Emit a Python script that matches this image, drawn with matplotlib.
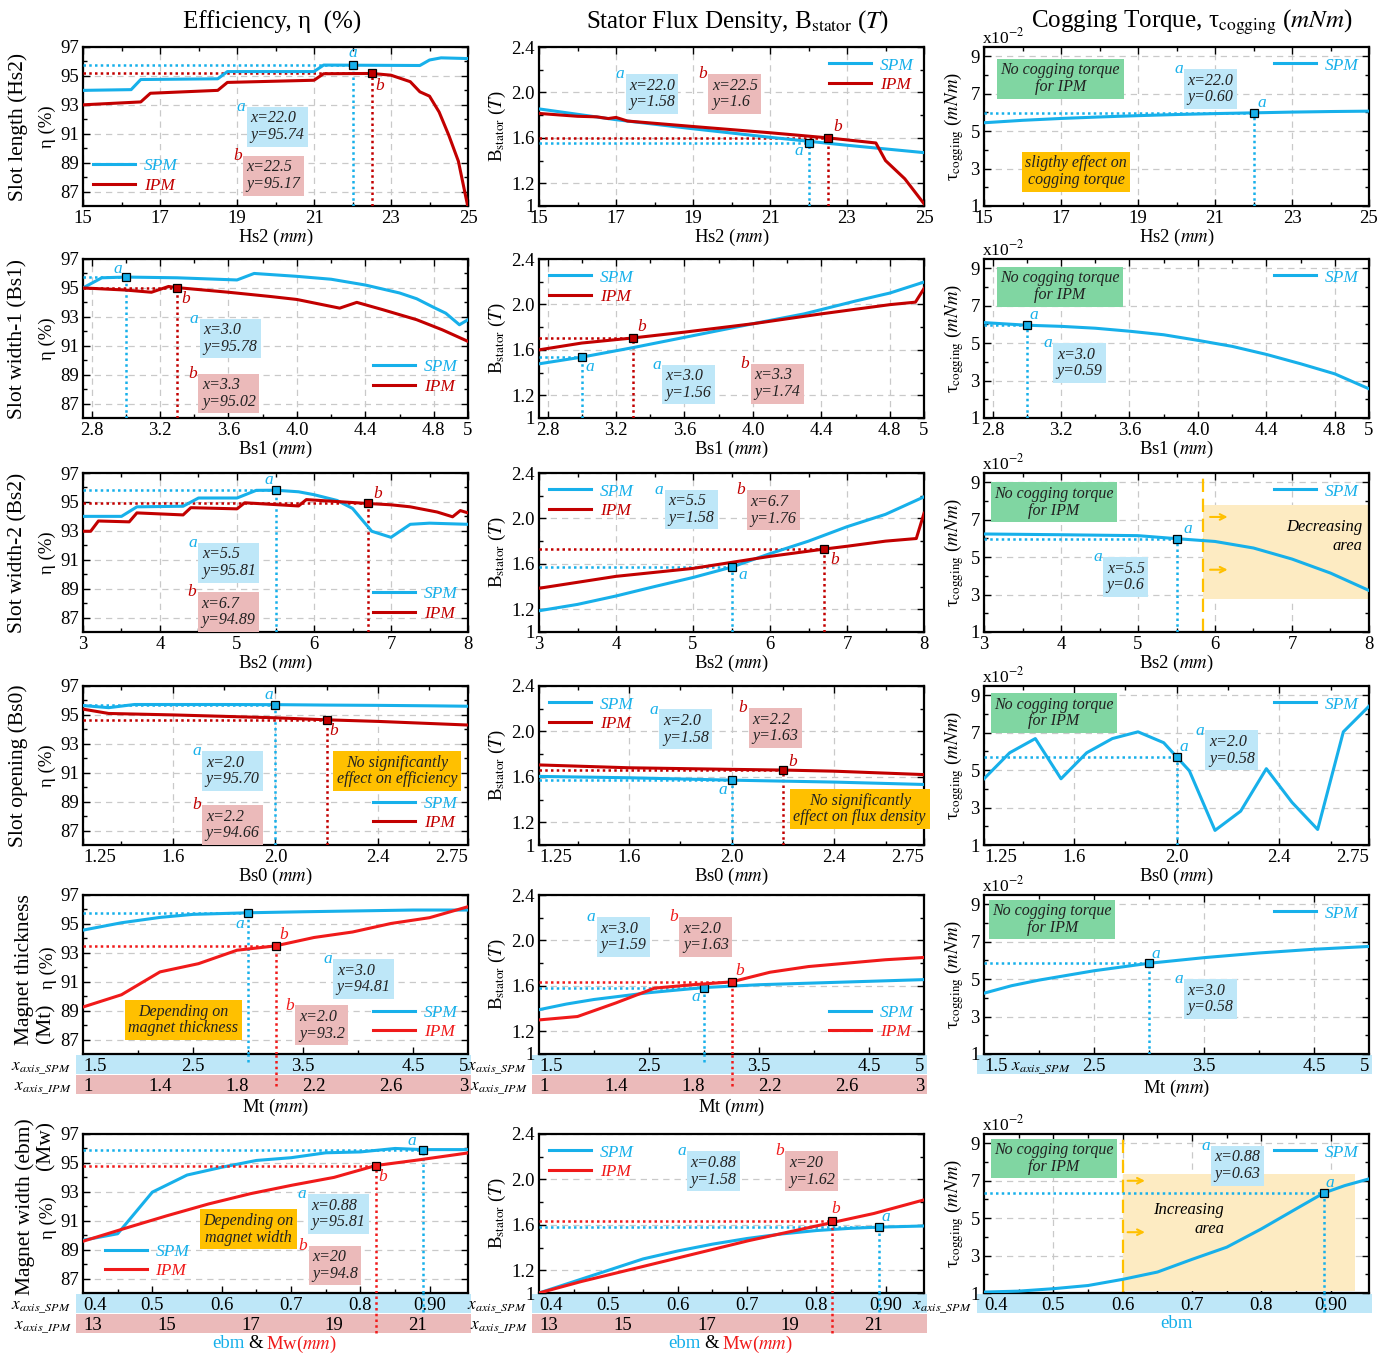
import numpy as np
import matplotlib.pyplot as plt
from matplotlib.patches import Rectangle

plt.rcParams['font.family'] = ['Liberation Serif', 'DejaVu Serif']
plt.rcParams['mathtext.fontset'] = 'stix'

# ---- values ----
# row 1 : slot length Hs2
hs2_eff_spm_x = [15, 16.25, 16.5, 18.5, 18.75, 21, 21.25, 23.75, 24, 24.3, 25]
hs2_eff_spm_y = [94.0, 94.05, 94.75, 94.8, 95.3, 95.3, 95.75, 95.72, 96.1, 96.25, 96.2]
hs2_eff_ipm_x = [15, 16.5, 16.75, 18.5, 18.75, 21, 21.25, 22.5, 23, 23.5, 23.75, 24, 24.25, 24.5, 24.75, 25]
hs2_eff_ipm_y = [93.0, 93.2, 93.8, 94.0, 94.55, 94.7, 95.15, 95.17, 95.05, 94.6, 93.9, 93.6, 92.5, 90.9, 89.1, 85.9]
hs2_flux_spm_x = [15, 17, 19, 21, 23, 25]
hs2_flux_spm_y = [1.855, 1.76, 1.68, 1.605, 1.535, 1.47]
hs2_flux_ipm_x = [15, 16, 16.5, 16.8, 17, 17.3, 19, 21, 22.5, 23.75, 24, 24.5, 25]
hs2_flux_ipm_y = [1.815, 1.79, 1.785, 1.77, 1.78, 1.748, 1.70, 1.645, 1.60, 1.555, 1.40, 1.24, 1.02]
hs2_cog_x = [15, 16, 17, 18, 19, 20, 21, 22, 23, 24, 25]
hs2_cog_y = [5.45, 5.58, 5.68, 5.76, 5.83, 5.89, 5.94, 5.98, 6.02, 6.05, 6.07]

# row 2 : slot width-1 Bs1
bs1_eff_spm_x = [2.75, 2.86, 3.0, 3.3, 3.65, 3.75, 4.0, 4.2, 4.4, 4.6, 4.7, 4.8, 4.87, 4.95, 5.0]
bs1_eff_spm_y = [95.0, 95.7, 95.75, 95.7, 95.55, 96.0, 95.8, 95.6, 95.2, 94.65, 94.25, 93.65, 93.25, 92.45, 92.8]
bs1_eff_ipm_x = [2.75, 3.0, 3.15, 3.25, 3.3, 3.6, 3.85, 4.0, 4.25, 4.35, 4.5, 4.7, 4.85, 5.0]
bs1_eff_ipm_y = [95.0, 94.85, 94.7, 95.1, 95.02, 94.7, 94.4, 94.2, 93.6, 94.0, 93.5, 92.8, 92.1, 91.3]
bs1_flux_spm_x = [2.75, 3.0, 3.3, 3.6, 4.0, 4.3, 4.6, 4.8, 5.0]
bs1_flux_spm_y = [1.477, 1.536, 1.62, 1.71, 1.83, 1.917, 2.03, 2.10, 2.197]
bs1_flux_ipm_x = [2.75, 3.0, 3.3, 3.6, 4.0, 4.4, 4.8, 4.95, 5.0]
bs1_flux_ipm_y = [1.60, 1.66, 1.705, 1.756, 1.83, 1.917, 1.998, 2.02, 2.14]
bs1_cog_x = [2.75, 3.0, 3.2, 3.4, 3.6, 3.8, 4.0, 4.2, 4.4, 4.6, 4.8, 5.0]
bs1_cog_y = [6.10, 5.96, 5.9, 5.8, 5.64, 5.45, 5.15, 4.83, 4.4, 3.9, 3.36, 2.56]

# row 3 : slot width-2 Bs2
bs2_eff_spm_x = [3, 3.5, 3.7, 4.3, 4.5, 5.0, 5.25, 5.5, 5.8, 6.0, 6.3, 6.5, 6.75, 7.0, 7.25, 7.5, 8.0]
bs2_eff_spm_y = [94.0, 94.0, 94.66, 94.7, 95.27, 95.27, 95.8, 95.81, 95.7, 95.5, 95.1, 94.55, 92.97, 92.55, 93.45, 93.53, 93.45]
bs2_eff_ipm_x = [3.0, 3.1, 3.2, 3.6, 3.7, 4.3, 4.4, 5.0, 5.1, 5.8, 5.9, 6.7, 7.0, 7.25, 7.6, 7.8, 7.9, 8.0]
bs2_eff_ipm_y = [92.97, 92.97, 93.68, 93.62, 94.24, 94.1, 94.6, 94.52, 94.94, 94.72, 95.16, 94.89, 94.8, 94.66, 94.3, 93.97, 94.4, 94.24]
bs2_flux_spm_x = [3, 3.5, 4, 4.5, 5, 5.5, 6, 6.5, 7, 7.5, 8]
bs2_flux_spm_y = [1.187, 1.243, 1.317, 1.40, 1.48, 1.571, 1.69, 1.80, 1.927, 2.036, 2.19]
bs2_flux_ipm_x = [3, 4, 5, 5.5, 6, 6.7, 7, 7.5, 7.9, 8]
bs2_flux_ipm_y = [1.385, 1.49, 1.56, 1.613, 1.666, 1.73, 1.755, 1.80, 1.823, 2.045]
bs2_cog_x = [3, 4, 5, 5.5, 6, 6.5, 7, 7.5, 8]
bs2_cog_y = [6.24, 6.2, 6.15, 5.99, 5.84, 5.49, 4.9, 4.15, 3.22]

# row 4 : slot opening Bs0
bs0_eff_spm_x = [1.25, 1.35, 1.45, 1.6, 1.8, 2.0, 2.2, 2.4, 2.6, 2.75]
bs0_eff_spm_y = [95.65, 95.5, 95.72, 95.72, 95.72, 95.71, 95.68, 95.66, 95.63, 95.6]
bs0_eff_ipm_x = [1.25, 1.35, 1.6, 2.0, 2.2, 2.4, 2.75]
bs0_eff_ipm_y = [95.4, 95.1, 95.0, 94.8, 94.66, 94.55, 94.3]
bs0_flux_spm_x = [1.25, 1.6, 2.0, 2.4, 2.75]
bs0_flux_spm_y = [1.604, 1.592, 1.571, 1.554, 1.533]
bs0_flux_ipm_x = [1.25, 1.6, 2.0, 2.2, 2.4, 2.75]
bs0_flux_ipm_y = [1.705, 1.68, 1.666, 1.66, 1.65, 1.62]
bs0_cog_x = [1.25, 1.35, 1.45, 1.55, 1.65, 1.75, 1.85, 1.95, 2.05, 2.15, 2.25, 2.35, 2.45, 2.55, 2.65, 2.75]
bs0_cog_y = [4.54, 5.93, 6.69, 4.54, 5.93, 6.69, 7.05, 6.47, 4.97, 1.78, 2.81, 5.08, 3.28, 1.83, 7.05, 8.42]

# row 5 : magnet thickness Mt (SPM and IPM use different x ranges)
mt_spm_x = [1.5, 1.85, 2.2, 2.5, 3.0, 3.5, 4.0, 4.5, 5.0]
mt_eff_spm_y = [94.57, 95.08, 95.45, 95.66, 95.77, 95.84, 95.9, 95.96, 95.96]
mt_ipm_x = [1.0, 1.2, 1.4, 1.6, 1.8, 2.0, 2.2, 2.4, 2.6, 2.8, 3.0]
mt_eff_ipm_y = [89.25, 90.1, 91.68, 92.25, 93.18, 93.48, 94.06, 94.44, 95.03, 95.43, 96.19]
mt_flux_spm_x = [1.5, 1.75, 2.0, 2.5, 3.0, 3.5, 4.0, 4.5, 5.0]
mt_flux_spm_y = [1.39, 1.44, 1.48, 1.54, 1.585, 1.61, 1.625, 1.64, 1.655]
mt_flux_ipm_y = [1.30, 1.33, 1.45, 1.58, 1.61, 1.635, 1.72, 1.77, 1.80, 1.83, 1.85]
mt_cog_x = [1.5, 1.75, 2.0, 2.25, 2.5, 2.75, 3.0, 3.5, 4.0, 4.5, 5.0]
mt_cog_y = [4.25, 4.65, 4.95, 5.2, 5.45, 5.65, 5.85, 6.15, 6.4, 6.6, 6.75]

# row 6 : magnet width ebm (SPM) / Mw (IPM)
ebm_x = [0.4, 0.45, 0.5, 0.55, 0.6, 0.65, 0.7, 0.75, 0.8, 0.85, 0.89, 0.955]
ebm_eff_spm_y = [89.65, 90.1, 92.98, 94.16, 94.7, 95.17, 95.36, 95.7, 95.76, 96.0, 95.92, 95.92]
mw_x = [13, 14, 15, 16, 17, 18, 19, 20, 21, 22.2]
mw_eff_ipm_y = [89.58, 90.47, 91.34, 92.16, 92.87, 93.46, 94.0, 94.82, 95.2, 95.69]
ebm_flux_spm_y = [1.0, 1.1, 1.2, 1.3, 1.37, 1.43, 1.48, 1.52, 1.55, 1.57, 1.58, 1.59]
mw_flux_ipm_y = [1.0, 1.1, 1.19, 1.28, 1.37, 1.46, 1.54, 1.62, 1.70, 1.82]
ebm_cog_x = [0.4, 0.45, 0.5, 0.55, 0.6, 0.65, 0.7, 0.75, 0.8, 0.85, 0.89, 0.92, 0.955]
ebm_cog_y = [1.05, 1.1, 1.23, 1.4, 1.73, 2.12, 2.8, 3.45, 4.43, 5.5, 6.35, 6.74, 7.1]

# band tick labels
mt_spm_ticks = [1.5, 2.5, 3.5, 4.5, 5]
mt_ipm_ticks = [1, 1.4, 1.8, 2.2, 2.6, 3]
ebm_ticks = [0.4, 0.5, 0.6, 0.7, 0.8, 0.9]
ebm_labels = ['0.4', '0.5', '0.6', '0.7', '0.8', '0.90']
mw_ticks = [13, 15, 17, 19, 21]

# ---- style ----
W, H = 1390, 1355
SPM = '#17b0ea'
IPM = '#c20000'
IPM2 = '#f01a1a'
BOXA = '#bee7f8'
BOXB = '#ebbaba'
GREEN = '#80d6a2'
ORANGE = '#ffc000'
SHADE = '#fdebc2'

COLS = [83, 539, 984]
CW = 385
TOPS = [47, 259, 473, 686, 895, 1134]
AH = 159

fig = plt.figure(figsize=(W / 100, H / 100), dpi=100)


def place(x, y, w, h):
    return fig.add_axes([x / W, 1 - (y + h) / H, w / W, h / H])


def ftext(x, y, s, **kw):
    kw.setdefault('ha', 'center')
    kw.setdefault('va', 'center')
    fig.text(x / W, 1 - y / H, s, **kw)


EFF = dict(ylim=(86, 97), yt=[87, 89, 91, 93, 95, 97], ytl=None, ym=[88, 90, 92, 94, 96])
FLUX = dict(ylim=(1, 2.4), yt=[1, 1.2, 1.6, 2.0, 2.4], ytl=['1', '1.2', '1.6', '2.0', '2.4'], ym=[1.4, 1.8, 2.2])
COG = dict(ylim=(1, 9.5), yt=[1, 3, 5, 7, 9], ytl=None, ym=[2, 4, 6, 8])
YK = [EFF, FLUX, COG]

ROWX = [
    dict(xlim=(15, 25), xt=[15, 17, 19, 21, 23, 25], xtl=None, xm=[16, 18, 20, 22, 24]),
    dict(xlim=(2.75, 5.0), xt=[2.8, 3.2, 3.6, 4.0, 4.4, 4.8, 5.0],
         xtl=['2.8', '3.2', '3.6', '4.0', '4.4', '4.8', '5'], xm=[3.0, 3.4, 3.8, 4.2, 4.6]),
    dict(xlim=(3, 8), xt=[3, 4, 5, 6, 7, 8], xtl=None, xm=[3.5, 4.5, 5.5, 6.5, 7.5]),
    dict(xlim=(1.25, 2.75), xt=[1.25, 1.6, 2.0, 2.4, 2.75],
         xtl=['1.25', '1.6', '2.0', '2.4', '2.75'], xm=[1.4, 1.8, 2.2, 2.6]),
    dict(xlim=(1.5, 5), xt=[2.5, 3.5, 4.5], xtl=None, xm=[2, 3, 4]),
    dict(xlim=(0.4, 0.955), xt=[0.5, 0.6, 0.7, 0.8, 0.9], xtl=None, xm=[0.45, 0.55, 0.65, 0.75, 0.85]),
]


def frame(ax, r, c):
    rx, yk = ROWX[r], YK[c]
    ax.set_xlim(rx['xlim'])
    ax.set_ylim(yk['ylim'])
    ax.set_xticks(rx['xt'])
    if rx['xtl']:
        ax.set_xticklabels(rx['xtl'])
    ax.set_xticks(rx['xm'], minor=True)
    ax.set_yticks(yk['yt'])
    if yk['ytl']:
        ax.set_yticklabels(yk['ytl'])
    ax.set_yticks(yk['ym'], minor=True)
    ax.tick_params(which='both', direction='in', top=True, right=True, labelsize=13.5, width=1, pad=3)
    ax.tick_params(which='major', length=5)
    ax.tick_params(which='minor', length=3)
    if r == 3:
        ax.get_xticklabels()[0].set_ha('left')
        ax.get_xticklabels()[-1].set_ha('right')
    if r >= 4:
        ax.tick_params(axis='x', labelbottom=False)
    xgrid = r < 4 or c == 2
    ax.grid(True, axis='both' if xgrid else 'y', which='major', ls=(0, (5, 4)), color='#c9c9c9', lw=0.9)
    ax.set_axisbelow(True)
    for s in ax.spines.values():
        s.set_linewidth(1.6)


def twin(ax, xlim):
    a2 = ax.twiny()
    a2.set_xlim(xlim)
    a2.set_zorder(ax.get_zorder() + 1)
    a2.patch.set_visible(False)
    a2.set_xticks([])
    a2.tick_params(top=False, labeltop=False)
    for s in a2.spines.values():
        s.set_visible(False)
    return a2


def curve(ax, x, y, c, lab):
    l, = ax.plot(x, y, color=c, lw=2.2, label=lab, zorder=4)
    return l


def mark(ax, x, y, c, letter, off, drop=0.0):
    x0, y0 = ax.get_xlim()[0], ax.get_ylim()[0]
    dots = dict(ls=(0, (1, 1.3)), lw=1.8, color=c, zorder=3)
    ax.plot([x0, x], [y, y], **dots)
    ax.plot([x, x], [y0, y], **dots)
    if drop:
        ax.plot([x, x], [-drop, 0], transform=ax.get_xaxis_transform(), clip_on=False, **dots)
    ax.plot([x], [y], 's', ms=5.5, mfc=c, mec='black', mew=0.9, zorder=6)
    ax.annotate(letter, (x, y), xytext=off, textcoords='offset points', ha='center', va='center',
                color=c, style='italic', fontsize=12.5, zorder=7)


def note(ax, xf, yf, s, fc, letter=None, lc=None, size=11.5, ma='left'):
    ax.annotate(s, (xf, yf), xycoords='axes fraction', xytext=(2.5, -2.5), textcoords='offset points',
                ha='left', va='top', ma=ma, fontsize=size, style='italic', color='#222222',
                linespacing=1.05, zorder=7, bbox=dict(boxstyle='square,pad=0.22', fc=fc, ec='none'))
    if letter:
        ax.annotate(letter, (xf, yf), xycoords='axes fraction', xytext=(-1, 0), textcoords='offset points',
                    ha='right', va='center', fontsize=12.5, style='italic', color=lc, zorder=7)


def leg(ax, hs, loc, anchor):
    lg = ax.legend(handles=hs, loc=loc, bbox_to_anchor=anchor, frameon=False,
                   prop=dict(style='italic', size=12.5), handlelength=2.4, handletextpad=0.5,
                   labelspacing=0.2, borderaxespad=0.2)
    for t, h in zip(lg.get_texts(), hs):
        t.set_color(h.get_color())
    lg.set_zorder(8)


def band(c, y, xlim, ticks, labels, fc, name=None, name_x=-0.03):
    b = place(COLS[c], y, CW, 19)
    b.set_xlim(xlim)
    b.set_ylim(0, 1)
    b.set_axis_off()
    b.set_zorder(-1)
    b.add_patch(Rectangle((-0.018, 0), 1.026, 1, transform=b.transAxes, fc=fc, ec='none', clip_on=False))
    for t, lab in zip(ticks, labels):
        ha = 'center'
        if abs(t - xlim[0]) < 1e-9:
            ha = 'left'
        elif abs(t - xlim[1]) < 1e-9:
            ha = 'right'
        b.text(t, 0.42, lab, ha=ha, va='center', fontsize=13.5)
    if name:
        b.text(name_x, 0.3, name, transform=b.transAxes, ha='right' if name_x < 0 else 'left',
               va='center', fontsize=12.5)


def cog_extras(ax):
    ax.text(-0.005, 1.0, r'x10$^{-2}$', transform=ax.transAxes, ha='left', va='bottom', fontsize=12.5)


axes = {}
for r in range(6):
    for c in range(3):
        axes[r, c] = place(COLS[c], TOPS[r], CW, AH)
        frame(axes[r, c], r, c)

# ---------------- row 1 ----------------
ax = axes[0, 0]
hs = [curve(ax, hs2_eff_spm_x, hs2_eff_spm_y, SPM, 'SPM'), curve(ax, hs2_eff_ipm_x, hs2_eff_ipm_y, IPM, 'IPM')]
mark(ax, 22.0, 95.74, SPM, 'a', (0, 9))
mark(ax, 22.5, 95.17, IPM, 'b', (6, -9))
note(ax, 0.426, 0.623, 'x=22.0\ny=95.74', BOXA, 'a', SPM)
note(ax, 0.416, 0.315, 'x=22.5\ny=95.17', BOXB, 'b', IPM)
leg(ax, hs, 'lower left', (0.0, 0.01))

ax = axes[0, 1]
hs = [curve(ax, hs2_flux_spm_x, hs2_flux_spm_y, SPM, 'SPM'), curve(ax, hs2_flux_ipm_x, hs2_flux_ipm_y, IPM, 'IPM')]
mark(ax, 22.0, 1.555, SPM, 'a', (-7, -6))
mark(ax, 22.5, 1.60, IPM, 'b', (7, 8))
note(ax, 0.225, 0.83, 'x=22.0\ny=1.58', BOXA, 'a', SPM)
note(ax, 0.44, 0.83, 'x=22.5\ny=1.6', BOXB, 'b', IPM)
leg(ax, hs, 'upper right', (1.0, 1.0))

ax = axes[0, 2]
hs = [curve(ax, hs2_cog_x, hs2_cog_y, SPM, 'SPM')]
mark(ax, 22.0, 5.98, SPM, 'a', (6, 7))
note(ax, 0.034, 0.925, 'No cogging torque\nfor IPM', GREEN, ma='center')
note(ax, 0.098, 0.34, 'sligthy effect on\ncogging torque', ORANGE, ma='center')
note(ax, 0.52, 0.86, 'x=22.0\ny=0.60', BOXA, 'a', SPM)
leg(ax, hs, 'upper right', (1.0, 1.0))
cog_extras(ax)

# ---------------- row 2 ----------------
ax = axes[1, 0]
hs = [curve(ax, bs1_eff_spm_x, bs1_eff_spm_y, SPM, 'SPM'), curve(ax, bs1_eff_ipm_x, bs1_eff_ipm_y, IPM, 'IPM')]
mark(ax, 3.0, 95.75, SPM, 'a', (-6, 6))
mark(ax, 3.3, 95.02, IPM, 'b', (6, -8))
note(ax, 0.304, 0.625, 'x=3.0\ny=95.78', BOXA, 'a', SPM)
note(ax, 0.30, 0.278, 'x=3.3\ny=95.02', BOXB, 'b', IPM)
leg(ax, hs, 'lower right', (1.0, 0.08))

ax = axes[1, 1]
hs = [curve(ax, bs1_flux_spm_x, bs1_flux_spm_y, SPM, 'SPM'), curve(ax, bs1_flux_ipm_x, bs1_flux_ipm_y, IPM, 'IPM')]
mark(ax, 3.0, 1.536, SPM, 'a', (6, -7))
mark(ax, 3.3, 1.705, IPM, 'b', (6, 8))
note(ax, 0.32, 0.336, 'x=3.0\ny=1.56', BOXA, 'a', SPM)
note(ax, 0.55, 0.34, 'x=3.3\ny=1.74', BOXB, 'b', IPM)
leg(ax, hs, 'upper left', (0.0, 1.0))

ax = axes[1, 2]
hs = [curve(ax, bs1_cog_x, bs1_cog_y, SPM, 'SPM')]
mark(ax, 3.0, 5.96, SPM, 'a', (5, 7))
note(ax, 0.033, 0.95, 'No cogging torque\nfor IPM', GREEN, ma='center')
note(ax, 0.18, 0.47, 'x=3.0\ny=0.59', BOXA, 'a', SPM)
leg(ax, hs, 'upper right', (1.0, 1.0))
cog_extras(ax)

# ---------------- row 3 ----------------
ax = axes[2, 0]
hs = [curve(ax, bs2_eff_spm_x, bs2_eff_spm_y, SPM, 'SPM'), curve(ax, bs2_eff_ipm_x, bs2_eff_ipm_y, IPM, 'IPM')]
mark(ax, 5.5, 95.81, SPM, 'a', (-5, 7))
mark(ax, 6.7, 94.89, IPM, 'b', (7, 7))
note(ax, 0.30, 0.56, 'x=5.5\ny=95.81', BOXA, 'a', SPM)
note(ax, 0.298, 0.25, 'x=6.7\ny=94.89', BOXB, 'b', IPM)
leg(ax, hs, 'lower right', (1.0, 0.0))

ax = axes[2, 1]
hs = [curve(ax, bs2_flux_spm_x, bs2_flux_spm_y, SPM, 'SPM'), curve(ax, bs2_flux_ipm_x, bs2_flux_ipm_y, IPM, 'IPM')]
mark(ax, 5.5, 1.571, SPM, 'a', (8, -6))
mark(ax, 6.7, 1.73, IPM, 'b', (8, -8))
note(ax, 0.327, 0.894, 'x=5.5\ny=1.58', BOXA, 'a', SPM)
note(ax, 0.54, 0.89, 'x=6.7\ny=1.76', BOXB, 'b', IPM)
leg(ax, hs, 'upper left', (0.0, 1.0))

ax = axes[2, 2]
ax.add_patch(Rectangle((5.85, 2.76), 8 - 5.85, 7.8 - 2.76, fc=SHADE, ec='none', zorder=1))
ax.axvline(5.85, color=ORANGE, lw=1.6, ls=(0, (6, 3)), zorder=2)
for yy in [7.15, 4.33]:
    ax.annotate('', xy=(6.2, yy), xytext=(5.9, yy),
                arrowprops=dict(arrowstyle='->', color=ORANGE, lw=1.5), zorder=3)
ax.text(7.92, 6.1, 'Decreasing\narea', ha='right', va='center', ma='right', style='italic', fontsize=12)
hs = [curve(ax, bs2_cog_x, bs2_cog_y, SPM, 'SPM')]
mark(ax, 5.5, 5.99, SPM, 'a', (8, 7))
note(ax, 0.017, 0.94, 'No cogging torque\nfor IPM', GREEN, ma='center')
note(ax, 0.31, 0.47, 'x=5.5\ny=0.6', BOXA, 'a', SPM)
leg(ax, hs, 'upper right', (1.0, 1.0))
cog_extras(ax)

# ---------------- row 4 ----------------
ax = axes[3, 0]
hs = [curve(ax, bs0_eff_spm_x, bs0_eff_spm_y, SPM, 'SPM'), curve(ax, bs0_eff_ipm_x, bs0_eff_ipm_y, IPM, 'IPM')]
mark(ax, 2.0, 95.71, SPM, 'a', (-5, 7))
mark(ax, 2.2, 94.66, IPM, 'b', (5, -8))
note(ax, 0.31, 0.59, 'x=2.0\ny=95.70', BOXA, 'a', SPM)
note(ax, 0.31, 0.25, 'x=2.2\ny=94.66', BOXB, 'b', IPM)
note(ax, 0.65, 0.59, 'No significantly\neffect on efficiency', ORANGE, ma='center')
leg(ax, hs, 'lower right', (1.0, 0.02))

ax = axes[3, 1]
hs = [curve(ax, bs0_flux_spm_x, bs0_flux_spm_y, SPM, 'SPM'), curve(ax, bs0_flux_ipm_x, bs0_flux_ipm_y, IPM, 'IPM')]
mark(ax, 2.0, 1.571, SPM, 'a', (-6, -7))
mark(ax, 2.2, 1.66, IPM, 'b', (7, 6))
note(ax, 0.313, 0.852, 'x=2.0\ny=1.58', BOXA, 'a', SPM)
note(ax, 0.545, 0.86, 'x=2.2\ny=1.63', BOXB, 'b', IPM)
note(ax, 0.652, 0.35, 'No significantly\neffect on flux density', ORANGE, ma='center')
leg(ax, hs, 'upper left', (0.0, 1.0))

ax = axes[3, 2]
hs = [curve(ax, bs0_cog_x, bs0_cog_y, SPM, 'SPM')]
mark(ax, 2.0, 5.72, SPM, 'a', (5, 7))
note(ax, 0.017, 0.955, 'No cogging torque\nfor IPM', GREEN, ma='center')
note(ax, 0.575, 0.72, 'x=2.0\ny=0.58', BOXA, 'a', SPM)
leg(ax, hs, 'upper right', (1.0, 1.0))
cog_extras(ax)

# ---------------- row 5 (two x scales) ----------------
ax = axes[4, 0]
a2 = twin(ax, (1, 3))
hs = [curve(ax, mt_spm_x, mt_eff_spm_y, SPM, 'SPM'), curve(a2, mt_ipm_x, mt_eff_ipm_y, IPM2, 'IPM')]
mark(ax, 3.0, 95.77, SPM, 'a', (-6, -8), drop=0.05)
mark(a2, 2.0, 93.48, IPM2, 'b', (6, 8), drop=0.2)
note(ax, 0.65, 0.596, 'x=3.0\ny=94.81', BOXA, 'a', SPM)
note(ax, 0.552, 0.305, 'x=2.0\ny=93.2', BOXB, 'b', IPM2)
note(ax, 0.109, 0.337, 'Depending on\nmagnet thickness', ORANGE, ma='center')
leg(a2, hs, 'lower right', (1.0, 0.02))

ax = axes[4, 1]
a2 = twin(ax, (1, 3))
hs = [curve(ax, mt_flux_spm_x, mt_flux_spm_y, SPM, 'SPM'), curve(a2, mt_ipm_x, mt_flux_ipm_y, IPM2, 'IPM')]
mark(ax, 3.0, 1.585, SPM, 'a', (-6, -7), drop=0.05)
mark(a2, 2.0, 1.635, IPM2, 'b', (6, 8), drop=0.2)
note(ax, 0.15, 0.86, 'x=3.0\ny=1.59', BOXA, 'a', SPM)
note(ax, 0.365, 0.86, 'x=2.0\ny=1.63', BOXB, 'b', IPM2)
leg(a2, hs, 'lower right', (1.0, 0.02))

ax = axes[4, 2]
hs = [curve(ax, mt_cog_x, mt_cog_y, SPM, 'SPM')]
mark(ax, 3.0, 5.85, SPM, 'a', (5, 7))
note(ax, 0.013, 0.97, 'No cogging torque\nfor IPM', GREEN, ma='center')
note(ax, 0.52, 0.47, 'x=3.0\ny=0.58', BOXA, 'a', SPM)
leg(ax, hs, 'upper right', (1.0, 1.0))
cog_extras(ax)

# ---------------- row 6 (two x scales) ----------------
ax = axes[5, 0]
a2 = twin(ax, (13, 22.2))
hs = [curve(ax, ebm_x, ebm_eff_spm_y, SPM, 'SPM'), curve(a2, mw_x, mw_eff_ipm_y, IPM2, 'IPM')]
mark(ax, 0.89, 95.92, SPM, 'a', (-8, 6), drop=0.12)
mark(a2, 20, 94.82, IPM2, 'b', (5, -8), drop=0.25)
note(ax, 0.584, 0.62, 'x=0.88\ny=95.81', BOXA, 'a', SPM)
note(ax, 0.586, 0.298, 'x=20\ny=94.8', BOXB, 'b', IPM2)
note(ax, 0.303, 0.525, 'Depending on\nmagnet width', ORANGE, ma='center')
leg(a2, hs, 'lower left', (0.03, 0.02))

ax = axes[5, 1]
a2 = twin(ax, (13, 22.2))
hs = [curve(ax, ebm_x, ebm_flux_spm_y, SPM, 'SPM'), curve(a2, mw_x, mw_flux_ipm_y, IPM2, 'IPM')]
mark(ax, 0.89, 1.58, SPM, 'a', (5, 7), drop=0.12)
mark(a2, 20, 1.63, IPM2, 'b', (3, 9), drop=0.25)
note(ax, 0.385, 0.89, 'x=0.88\ny=1.58', BOXA, 'a', SPM)
note(ax, 0.64, 0.89, 'x=20\ny=1.62', BOXB, 'b', IPM2)
leg(a2, hs, 'upper left', (0.0, 1.0))

ax = axes[5, 2]
ax.add_patch(Rectangle((0.6, 1.09), 0.935 - 0.6, 7.36 - 1.09, fc=SHADE, ec='none', zorder=1))
ax.axvline(0.6, color=ORANGE, lw=1.6, ls=(0, (6, 3)), zorder=2)
for yy in [7.0, 4.25]:
    ax.annotate('', xy=(0.636, yy), xytext=(0.603, yy),
                arrowprops=dict(arrowstyle='->', color=ORANGE, lw=1.5), zorder=3)
ax.text(0.695, 5.44, 'Increasing', ha='center', va='center', style='italic', fontsize=12)
ax.text(0.725, 4.4, 'area', ha='center', va='center', style='italic', fontsize=12)
hs = [curve(ax, ebm_cog_x, ebm_cog_y, SPM, 'SPM')]
mark(ax, 0.89, 6.35, SPM, 'a', (4, 7), drop=0.12)
note(ax, 0.017, 0.97, 'No cogging torque\nfor IPM', GREEN, ma='center')
note(ax, 0.59, 0.925, 'x=0.88\ny=0.63', BOXA, 'a', SPM)
leg(ax, hs, 'upper right', (1.0, 1.0))
cog_extras(ax)

# ---------------- bands under rows 5 and 6 ----------------
SPM_NAME = r'$x_{axis\_SPM}$'
IPM_NAME = r'$x_{axis\_IPM}$'
yb5 = TOPS[4] + AH + 1
yb6 = TOPS[5] + AH + 1
for c in [0, 1]:
    band(c, yb5, (1.5, 5), mt_spm_ticks, ['1.5', '2.5', '3.5', '4.5', '5'], BOXA, SPM_NAME)
    band(c, yb5 + 20, (1, 3), mt_ipm_ticks, ['1', '1.4', '1.8', '2.2', '2.6', '3'], BOXB, IPM_NAME)
    band(c, yb6, (0.4, 0.955), ebm_ticks, ebm_labels, BOXA, SPM_NAME)
    band(c, yb6 + 20, (13, 22.2), mw_ticks, [str(t) for t in mw_ticks], BOXB, IPM_NAME)
band(2, yb5, (1.5, 5), mt_spm_ticks, ['1.5', '2.5', '3.5', '4.5', '5'], BOXA, SPM_NAME, name_x=0.07)
band(2, yb6, (0.4, 0.955), ebm_ticks, ebm_labels, BOXA, SPM_NAME)

# ---------------- titles and labels ----------------
ftext(272, 22, 'Efficiency, η  (%)', fontsize=18)
ftext(738, 22, r'Stator Flux Density, B$_{\mathrm{stator}}$ ($T$)', fontsize=18)
ftext(1192, 22, r'Cogging Torque, τ$_{\mathrm{cogging}}$ ($mNm$)', fontsize=18)

row_names = ['Slot length (Hs2)', 'Slot width-1 (Bs1)', 'Slot width-2 (Bs2)', 'Slot opening (Bs0)']
for r, nm in enumerate(row_names):
    yc = TOPS[r] + AH / 2
    ftext(18, yc, nm, rotation=90, fontsize=15.5)
    ftext(47, yc, 'η (%)', rotation=90, fontsize=13.5)
ftext(25, 970, 'Magnet thickness', rotation=90, fontsize=15.5)
ftext(46, 1023, '(Mt)', rotation=90, fontsize=15.5)
ftext(48, 968, 'η (%)', rotation=90, fontsize=13.5)
ftext(25, 1207, 'Magnet width (ebm)', rotation=90, fontsize=15.5)
ftext(46, 1145, '(Mw)', rotation=90, fontsize=15.5)
ftext(48, 1218, 'η (%)', rotation=90, fontsize=13.5)

for r in range(6):
    yc = TOPS[r] + AH / 2
    ftext(497, yc, r'B$_{\mathrm{stator}}$ ($T$)', rotation=90, fontsize=13.5)
    ftext(954, yc, r'τ$_{\mathrm{cogging}}$ ($mNm$)', rotation=90, fontsize=13.5)

xl_names = ['Hs2', 'Bs1', 'Bs2', 'Bs0']
for r, nm in enumerate(xl_names):
    for c in range(3):
        ftext(COLS[c] + CW / 2, TOPS[r] + AH + 31, nm + r' ($mm$)', fontsize=13.5)
for c in [0, 1]:
    ftext(COLS[c] + CW / 2, yb5 + 52, r'Mt ($mm$)', fontsize=13.5)
    xc = COLS[c] + CW / 2 - 20
    ftext(xc, yb6 + 50, '&', fontsize=13.5)
    ftext(xc - 11, yb6 + 50, 'ebm', fontsize=13.5, color=SPM, ha='right')
    ftext(xc + 11, yb6 + 50, r'Mw($mm$)', fontsize=13.5, color=IPM2, ha='left')
ftext(COLS[2] + CW / 2, yb5 + 33, r'Mt ($mm$)', fontsize=13.5)
ftext(COLS[2] + CW / 2, yb6 + 29, 'ebm', fontsize=13.5, color=SPM)

fig.savefig('out.png', dpi=100)
